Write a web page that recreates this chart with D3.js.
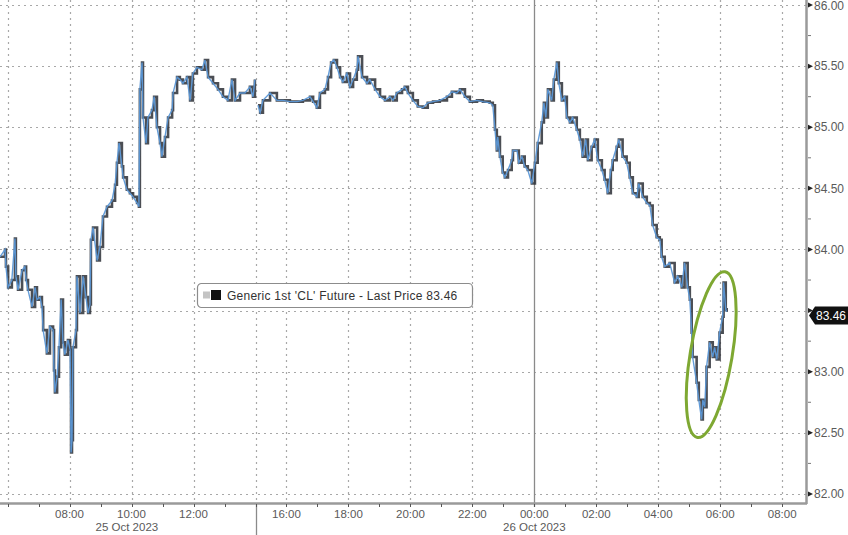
<!DOCTYPE html>
<html>
<head>
<meta charset="utf-8">
<script src="https://cdn.jsdelivr.net/npm/d3@7"></script>
<style>
  html, body { margin: 0; padding: 0; background: #fff; }
  svg { display: block; }
</style>
</head>
<body>
<svg id="chart" width="848" height="535"></svg>
<script>
// ---- DATA (hours since 25 Oct 2023 00:00; price USD/bbl) ----
const hours = [
  5.76, 5.92, 5.95, 6.02, 6.14, 6.24, 6.27, 6.34, 6.47, 6.56, 6.60, 6.66, 6.79, 6.89, 6.95,
  7.05, 7.11, 7.15, 7.27, 7.37, 7.47, 7.50, 7.53, 7.60, 7.66, 7.73, 7.79, 7.85, 7.95, 8.02,
  8.05, 8.08, 8.11, 8.21, 8.24, 8.34, 8.44, 8.53, 8.60, 8.66, 8.69, 8.76, 8.89, 8.98, 9.08,
  9.21, 9.37, 9.47, 9.53, 9.60, 9.69, 9.73, 9.85, 9.95, 10.05, 10.18, 10.24, 10.27, 10.34, 10.37,
  10.47, 10.53, 10.66, 10.73, 10.82, 10.92, 10.98, 11.08, 11.18, 11.31, 11.34, 11.47, 11.56, 11.66, 11.79,
  11.89, 11.98, 12.11, 12.27, 12.37, 12.47, 12.63, 12.79, 12.95, 13.11, 13.24, 13.34, 13.50, 13.66, 13.82,
  13.92, 13.98,
  15.08, 15.15, 15.24, 15.47, 15.69, 15.89, 16.11, 16.34, 16.53, 16.76, 16.86, 16.98, 17.08, 17.24, 17.34,
  17.44, 17.53, 17.63, 17.73, 17.82, 17.95, 18.05, 18.15, 18.27, 18.31, 18.44, 18.60, 18.69, 18.86, 19.02,
  19.18, 19.34, 19.44, 19.56, 19.73, 19.82, 19.92, 20.08, 20.24, 20.40, 20.56, 20.73, 20.95, 21.18, 21.34,
  21.50, 21.60, 21.76, 21.92, 22.15, 22.34, 22.56, 22.66, 22.73, 22.79, 22.82, 22.89, 22.98, 23.05, 23.15,
  23.27, 23.31, 23.44, 23.50, 23.60, 23.69, 23.79, 23.92, 24.02, 24.11, 24.24, 24.31, 24.37, 24.44, 24.56,
  24.63, 24.73, 24.79, 24.89, 24.98, 25.05, 25.15, 25.24, 25.37, 25.47, 25.56, 25.66, 25.73, 25.85, 25.95,
  26.05, 26.18, 26.27, 26.37, 26.47, 26.53, 26.66, 26.73, 26.85, 26.98, 27.08, 27.18, 27.31, 27.37, 27.50,
  27.63, 27.73, 27.82, 27.95, 28.05, 28.11, 28.21, 28.37, 28.53, 28.63, 28.76, 28.85, 28.95, 29.02, 29.08,
  29.11, 29.24, 29.31, 29.40, 29.44, 29.50, 29.56, 29.66, 29.76, 29.82, 29.89, 29.98, 30.08, 30.11, 30.18,
  30.21
];
const prices = [
  83.94, 84.00, 83.86, 83.69, 83.75, 84.09, 83.78, 83.67, 83.83, 83.86, 83.75, 83.67, 83.53, 83.69, 83.59,
  83.61, 83.53, 83.34, 83.15, 83.37, 83.34, 83.01, 82.83, 82.96, 83.20, 83.59, 83.24, 83.14, 83.26, 83.18,
  82.34, 82.44, 83.20, 83.34, 83.78, 83.48, 83.78, 83.61, 83.48, 83.55, 84.08, 84.18, 83.91, 84.02, 84.27,
  84.35, 84.40, 84.53, 84.71, 84.87, 84.68, 84.59, 84.49, 84.46, 84.43, 84.38, 84.35, 85.31, 85.53, 85.08,
  84.87, 85.08, 85.14, 85.25, 85.00, 84.87, 84.76, 84.92, 85.08, 85.14, 85.28, 85.41, 85.39, 85.36, 85.41,
  85.22, 85.44, 85.49, 85.47, 85.55, 85.41, 85.36, 85.31, 85.25, 85.22, 85.39, 85.22, 85.28, 85.28, 85.33,
  85.25, 85.39,
  85.18, 85.12, 85.22, 85.28, 85.22, 85.22, 85.21, 85.21, 85.22, 85.25, 85.21, 85.16, 85.28, 85.31, 85.41,
  85.53, 85.55, 85.49, 85.41, 85.37, 85.44, 85.33, 85.39, 85.47, 85.58, 85.41, 85.36, 85.39, 85.31, 85.25,
  85.22, 85.25, 85.22, 85.28, 85.31, 85.33, 85.28, 85.22, 85.17, 85.16, 85.20, 85.21, 85.22, 85.25, 85.29,
  85.28, 85.31, 85.25, 85.21, 85.22, 85.21, 85.20, 85.18, 84.98, 84.81, 84.92, 84.76, 84.63, 84.59, 84.65,
  84.73, 84.81, 84.81, 84.71, 84.76, 84.68, 84.65, 84.54, 84.71, 84.87, 85.04, 85.20, 85.08, 85.31, 85.22,
  85.39, 85.53, 85.36, 85.22, 85.25, 85.08, 85.04, 85.08, 84.98, 84.90, 84.76, 84.90, 84.73, 84.84, 84.90,
  84.73, 84.65, 84.57, 84.46, 84.65, 84.73, 84.84, 84.90, 84.76, 84.71, 84.59, 84.46, 84.43, 84.54, 84.43,
  84.38, 84.36, 84.20, 84.10, 84.08, 83.94, 83.86, 83.89, 83.73, 83.78, 83.69, 83.89, 83.69, 83.59, 83.32,
  83.12, 82.91, 82.77, 82.61, 82.77, 82.71, 83.04, 83.24, 83.12, 83.20, 83.10, 83.32, 83.45, 83.73, 83.51,
  83.49
];
const yTicks = [82.0, 82.5, 83.0, 83.5, 84.0, 84.5, 85.0, 85.5, 86.0];
const yMinorTicks = [82.25, 82.75, 83.25, 83.75, 84.25, 84.75, 85.25, 85.75];
const xTickHours = [8, 10, 12, 16, 18, 20, 22, 24, 26, 28, 30, 32];
const xTickLabels = ["08:00", "10:00", "12:00", "16:00", "18:00", "20:00", "22:00", "00:00", "02:00", "04:00", "06:00", "08:00"];
const xGridHours = [6, 8, 10, 12, 14, 16, 18, 20, 22, 26, 28, 30, 32];
const xMinorHours = [6, 7, 8, 9, 10, 11, 12, 13, 14, 16, 17, 18, 19, 20, 21, 22, 23, 24, 25, 26, 27, 28, 29, 30, 31, 32];
const dateLabels = ["25 Oct 2023", "26 Oct 2023"];
const dateLabelHours = [9.85, 24];
const sessionBreakHour = 14;   // session break 14:00–15:00 compressed
const midnightHour = 24;
const lastPrice = 83.46;
const seriesName = "Generic 1st 'CL' Future - Last Price";
const highlight = { hour: 29.71, price: 83.14 };

// ---- LAYOUT ----
const svg = d3.select("#chart");
const plotRight = 806, plotBottom = 503;
const x = d3.scaleLinear()
  .domain([5.758, 14, 15, 32.77])
  .range([0, 255.5, 255.5, plotRight]);
const y = d3.scaleLinear()
  .domain([81.926, 86.041])
  .range([plotBottom, 0]);

const font = "'Liberation Sans', Arial, sans-serif";

// gridlines
const grid = svg.append("g");
grid.selectAll("line.h").data(yTicks).join("line")
  .attr("x1", 0).attr("x2", plotRight)
  .attr("y1", d => Math.round(y(d)) + 0.5).attr("y2", d => Math.round(y(d)) + 0.5)
  .attr("stroke", "#a8a8a8").attr("stroke-width", 1.2).attr("stroke-dasharray", "2,4");
grid.selectAll("line.v").data(xGridHours).join("line")
  .attr("x1", d => Math.round(x(d)) + 0.5).attr("x2", d => Math.round(x(d)) + 0.5)
  .attr("y1", 0).attr("y2", plotBottom)
  .attr("stroke", "#a8a8a8").attr("stroke-width", 1.2).attr("stroke-dasharray", "2,4");

// midnight solid line
svg.append("line")
  .attr("x1", Math.round(x(midnightHour)) + 0.5).attr("x2", Math.round(x(midnightHour)) + 0.5)
  .attr("y1", 0).attr("y2", plotBottom + 4)
  .attr("stroke", "#8a8a8a").attr("stroke-width", 1.3);

// session break line in axis area
svg.append("line")
  .attr("x1", Math.round(x(sessionBreakHour)) + 0.5).attr("x2", Math.round(x(sessionBreakHour)) + 0.5)
  .attr("y1", plotBottom).attr("y2", 535)
  .attr("stroke", "#8a8a8a").attr("stroke-width", 1.3);

// series
const data = hours.map((h, i) => ({ h, p: prices[i] }));
const stepLine = d3.line().x(d => x(d.h)).y(d => y(d.p)).curve(d3.curveStepAfter);
const plainLine = d3.line().x(d => x(d.h)).y(d => y(d.p));
const segA = data.filter(d => d.h < 14.5), segB = data.filter(d => d.h > 14.5);
[segA, segB].forEach(seg => {
  svg.append("path").datum(seg).attr("d", stepLine)
    .attr("fill", "none").attr("stroke", "#2b2f36").attr("stroke-width", 2.6)
    .attr("opacity", 0.85);
  svg.append("path").datum(seg).attr("d", plainLine)
    .attr("fill", "none").attr("stroke", "#5b97d6").attr("stroke-width", 1.4)
    .attr("opacity", 0.95);
});

// axes lines
svg.append("line").attr("x1", 0).attr("x2", plotRight + 1)
  .attr("y1", plotBottom + 0.5).attr("y2", plotBottom + 0.5)
  .attr("stroke", "#9a9a9a").attr("stroke-width", 2.5);
svg.append("line").attr("x1", plotRight + 0.5).attr("x2", plotRight + 0.5)
  .attr("y1", 0).attr("y2", plotBottom + 1)
  .attr("stroke", "#9a9a9a").attr("stroke-width", 2.5);

// right axis ticks and labels
const lyTag = y(lastPrice);
const yAxis = svg.append("g");
yAxis.selectAll("path.maj").data(yTicks).join("path")
  .attr("d", d => { const yy = y(d); return `M${plotRight + 2},${yy - 2.5}L${plotRight + 7},${yy}L${plotRight + 2},${yy + 2.5}Z`; })
  .attr("fill", "#222");
yAxis.selectAll("line.min").data(yMinorTicks).join("line")
  .attr("x1", plotRight + 2).attr("x2", plotRight + 5)
  .attr("y1", d => y(d)).attr("y2", d => y(d))
  .attr("stroke", "#777").attr("stroke-width", 1);
yAxis.selectAll("text").data(yTicks.filter(d => Math.abs(y(d) - lyTag) > 14)).join("text")
  .attr("x", plotRight + 8).attr("y", d => Math.max(y(d) + 4.2, 10))
  .attr("font-family", font).attr("font-size", 12).attr("fill", "#5a5a5a")
  .text(d => d.toFixed(2));

// last price tag
const ly = lyTag;
svg.append("path")
  .attr("d", `M${plotRight + 3},${ly} L${plotRight + 9},${ly - 9} L848,${ly - 9} L848,${ly + 9} L${plotRight + 9},${ly + 9} Z`)
  .attr("fill", "#111");
svg.append("text").attr("x", plotRight + 10).attr("y", ly + 4.2)
  .attr("font-family", font).attr("font-size", 12).attr("fill", "#fff")
  .text(lastPrice.toFixed(2));

// bottom axis ticks and labels
const xAxis = svg.append("g");
xAxis.selectAll("line").data(xMinorHours).join("line")
  .attr("x1", d => Math.round(x(d)) + 0.5).attr("x2", d => Math.round(x(d)) + 0.5)
  .attr("y1", plotBottom + 1).attr("y2", plotBottom + 4)
  .attr("stroke", "#555").attr("stroke-width", 1);
xAxis.selectAll("text.t").data(xTickHours).join("text")
  .attr("x", d => x(d)).attr("y", 518)
  .attr("text-anchor", "middle")
  .attr("font-family", font).attr("font-size", 11.5).attr("fill", "#5a5a5a")
  .text((d, i) => xTickLabels[i]);
xAxis.selectAll("text.d").data(dateLabelHours).join("text")
  .attr("x", d => x(d)).attr("y", 531)
  .attr("text-anchor", "middle")
  .attr("font-family", font).attr("font-size", 11.5).attr("fill", "#5a5a5a")
  .text((d, i) => dateLabels[i]);

// legend
const lg = svg.append("g").attr("transform", "translate(197,283)");
lg.append("rect").attr("x", 0.5).attr("y", 0.5).attr("width", 275).attr("height", 24).attr("rx", 4)
  .attr("fill", "#fff").attr("stroke", "#8c8c8c").attr("stroke-width", 1.2);
lg.append("rect").attr("x", 6).attr("y", 8.5).attr("width", 7).attr("height", 7).attr("fill", "#c4c4c4");
lg.append("rect").attr("x", 14).attr("y", 7).attr("width", 10).attr("height", 10).attr("fill", "#111");
lg.append("text").attr("x", 30).attr("y", 16.5)
  .attr("font-family", font).attr("font-size", 12).attr("letter-spacing", 0.25).attr("fill", "#333")
  .text(`${seriesName} ${lastPrice.toFixed(2)}`);

// highlight ellipse
svg.append("ellipse")
  .attr("cx", 0).attr("cy", 0).attr("rx", 21).attr("ry", 84)
  .attr("transform", `translate(${x(highlight.hour)},${y(highlight.price)}) rotate(9.5)`)
  .attr("fill", "none").attr("stroke", "#7ea832").attr("stroke-width", 3);
</script>
</body>
</html>
